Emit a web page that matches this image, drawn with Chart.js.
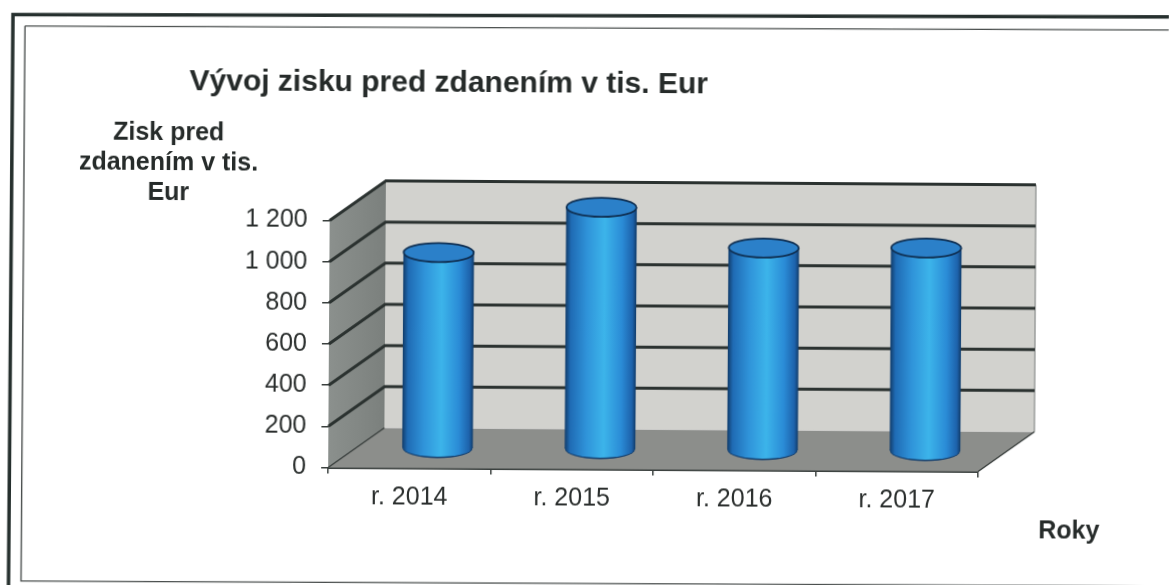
<!DOCTYPE html>
<html>
<head>
<meta charset="utf-8">
<style>
html,body{margin:0;padding:0;background:#fff;overflow:hidden;width:1169px;height:585px}
canvas{position:absolute;left:0;top:0;transform-origin:0 0;transform:rotate(0.35deg)}
</style>
<script src="https://cdn.jsdelivr.net/npm/chart.js@4"></script>
</head>
<body>
<canvas id="c" width="1169" height="585" style="width:1169px;height:585px"></canvas>
<script>
const categories = ['r. 2014', 'r. 2015', 'r. 2016', 'r. 2017'];
const profit = [950, 1175, 982, 987];
const yTickLabels = ['0', '200', '400', '600', '800', '1 000', '1 200'];
const chartTitle = 'Vývoj zisku pred zdanením v tis. Eur';
const yTitleLines = ['Zisk pred', 'zdanením v tis.', 'Eur'];
const xTitle = 'Roky';

const THETA = 0.35 * Math.PI / 180;
const DX = 56, DY = -40;
const FONT = '"Liberation Sans", Arial, sans-serif';
const HALF = 35, RY = 9.5;

function barGradient(ctx, x) {
  const g = ctx.createLinearGradient(x - HALF, 0, x + HALF, 0);
  g.addColorStop(0, '#123f6f');
  g.addColorStop(0.07, '#1f6bb4');
  g.addColorStop(0.3, '#2f93d9');
  g.addColorStop(0.55, '#3cb4ea');
  g.addColorStop(0.8, '#2a8bd6');
  g.addColorStop(0.95, '#1d62ab');
  g.addColorStop(1, '#123f6f');
  return g;
}

const scene = {
  id: 'scene',
  beforeDraw(chart) {
    const c = chart.ctx;
    c.save();
    c.rotate(-THETA);
    c.lineCap = 'butt';
    c.strokeStyle = '#26302e';
    c.lineWidth = 3.5;
    c.beginPath();
    c.moveTo(8.5, 585); c.lineTo(13, 14.5); c.lineTo(1169, 17);
    c.stroke();
    c.strokeStyle = '#4a4f4e';
    c.lineWidth = 1.4;
    c.beginPath();
    c.moveTo(25, 26); c.lineTo(21, 581); c.lineTo(1169, 586);
    c.moveTo(25, 26); c.lineTo(1169, 30);
    c.stroke();
    c.restore();
  },
  beforeDatasetsDraw(chart) {
    const c = chart.ctx, y = chart.scales.y, a = chart.chartArea;
    const l = a.left, r = a.right, b = y.getPixelForValue(0), t = y.getPixelForValue(1200);
    c.save();
    // floor
    c.fillStyle = '#8c8e8b';
    c.beginPath();
    c.moveTo(l, b); c.lineTo(r, b); c.lineTo(r + DX, b + DY); c.lineTo(l + DX, b + DY); c.closePath();
    c.fill();
    // back wall
    c.fillStyle = '#d2d2ce';
    c.fillRect(l + DX, t + DY, r - l, b - t);
    c.strokeStyle = '#9a9d9b';
    c.lineWidth = 1.5;
    c.beginPath();
    c.moveTo(r + DX, t + DY); c.lineTo(r + DX, b + DY);
    c.stroke();
    // side wall
    const sg = c.createLinearGradient(l, 0, l + DX, 0);
    sg.addColorStop(0, '#8b908d');
    sg.addColorStop(1, '#7b807d');
    c.fillStyle = sg;
    c.beginPath();
    c.moveTo(l, b); c.lineTo(l + DX, b + DY); c.lineTo(l + DX, t + DY); c.lineTo(l, t); c.closePath();
    c.fill();
    // grid
    c.strokeStyle = '#2b3230';
    c.lineWidth = 3;
    y.ticks.forEach(tk => {
      if (tk.value === 0) return;
      const py = y.getPixelForValue(tk.value);
      c.beginPath();
      c.moveTo(l, py); c.lineTo(l + DX, py + DY); c.lineTo(r + DX, py + DY);
      c.stroke();
    });
    // floor seams
    c.strokeStyle = '#3a403e';
    c.lineWidth = 1.5;
    c.beginPath();
    c.moveTo(l, b); c.lineTo(l + DX, b + DY);
    c.moveTo(r, b); c.lineTo(r + DX, b + DY);
    c.stroke();
    c.restore();
    // cylinders stand in the middle of the floor depth
    c.save();
    c.translate(DX / 2, DY / 2);
    chart.getDatasetMeta(0).data.forEach(bar => {
      c.fillStyle = '#123f6f';
      c.beginPath();
      c.ellipse(bar.x, b, HALF, RY + 0.5, 0, 0, Math.PI * 2);
      c.fill();
      c.fillStyle = barGradient(c, bar.x);
      c.beginPath();
      c.ellipse(bar.x, b - 1, HALF, RY, 0, 0, Math.PI * 2);
      c.fill();
    });
  },
  afterDatasetsDraw(chart) {
    const c = chart.ctx;
    chart.getDatasetMeta(0).data.forEach(bar => {
      c.fillStyle = '#2b80c9';
      c.strokeStyle = '#0f2f52';
      c.lineWidth = 1.8;
      c.beginPath();
      c.ellipse(bar.x, bar.y, HALF, RY, 0, 0, Math.PI * 2);
      c.fill();
      c.stroke();
    });
    c.restore();
  },
  afterDraw(chart) {
    const c = chart.ctx;
    c.save();
    c.fillStyle = '#262b2a';
    c.font = 'bold 25px ' + FONT;
    c.textAlign = 'center';
    c.textBaseline = 'middle';
    const yy = [132, 162, 192];
    yTitleLines.forEach((s, i) => c.fillText(s, 169.5, yy[i]));
    c.fillText(xTitle, 1072, 525);
    c.restore();
  },
  afterLayout(chart) {
    chart.titleBlock.left = 190;
  }
};

new Chart(document.getElementById('c'), {
  type: 'bar',
  plugins: [scene],
  data: {
    labels: categories,
    datasets: [{
      data: profit,
      clip: false,
      barThickness: HALF * 2,
      borderWidth: 0,
      backgroundColor(ctx) {
        const sc = ctx.chart.scales.x;
        const px = sc && ctx.dataIndex !== undefined ? sc.getPixelForValue(ctx.dataIndex) : NaN;
        return Number.isFinite(px) ? barGradient(ctx.chart.ctx, px) : '#2f93d9';
      }
    }]
  },
  options: {
    responsive: false,
    animation: false,
    devicePixelRatio: 1,
    layout: { padding: { left: 0, right: 188, top: 60, bottom: 0 } },
    plugins: {
      legend: { display: false },
      tooltip: { enabled: false },
      title: {
        display: true,
        text: chartTitle,
        align: 'start',
        color: '#262b2a',
        font: { family: FONT, size: 30, weight: 'bold', lineHeight: 1.2 },
        padding: { top: 2.5, bottom: 120 }
      }
    },
    scales: {
      x: {
        afterFit(s) { s.height = 119.5; },
        grid: { drawOnChartArea: false, color: '#3a403e', tickLength: 6, lineWidth: 1.5 },
        border: { display: true, color: '#3a403e', width: 2 },
        ticks: { color: '#2b2f2e', font: { family: FONT, size: 25 }, padding: 9, maxRotation: 0 }
      },
      y: {
        min: 0,
        max: 1200,
        afterFit(s) { s.width = 331; },
        grid: { drawOnChartArea: false, color: '#3a403e', tickLength: 7, lineWidth: 1.5 },
        border: { display: false },
        ticks: {
          stepSize: 200,
          color: '#2b2f2e',
          font: { family: FONT, size: 25 },
          padding: 15,
          callback(v, i) { return yTickLabels[i]; }
        }
      }
    }
  }
});
</script>
</body>
</html>
